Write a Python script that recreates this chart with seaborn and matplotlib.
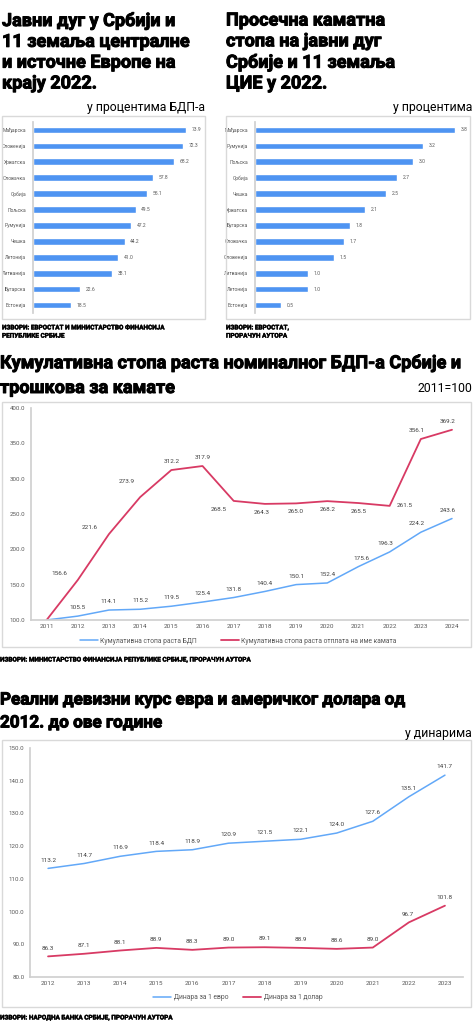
import numpy as np
import pandas as pd
import seaborn as sns
import matplotlib.pyplot as plt
import matplotlib.patheffects as pe
from matplotlib.patches import Rectangle
from matplotlib.ticker import FormatStrFormatter

W, H = 473, 1024

# data
debt_countries = ['Мађарска', 'Словенија', 'Хрватска', 'Словачка', 'Србија', 'Пољска',
                  'Румунија', 'Чешка', 'Летонија', 'Литванија', 'Бугарска', 'Естонија']
debt_values = [73.9, 72.3, 68.2, 57.8, 55.1, 49.5, 47.2, 44.2, 41.0, 38.1, 22.6, 18.5]

rate_countries = ['Мађарска', 'Румунија', 'Пољска', 'Србија', 'Чешка', 'Хрватска',
                  'Бугарска', 'Словачка', 'Словенија', 'Литванија', 'Летонија', 'Естонија']
rate_values = [3.8, 3.2, 3.0, 2.7, 2.5, 2.1, 1.8, 1.7, 1.5, 1.0, 1.0, 0.5]

gdp_years = [2011, 2012, 2013, 2014, 2015, 2016, 2017, 2018, 2019, 2020, 2021, 2022, 2023, 2024]
gdp_growth = [100.0, 105.5, 114.1, 115.2, 119.5, 125.4, 131.8, 140.4, 150.1, 152.4, 175.6, 196.3, 224.2, 243.6]
interest_growth = [100.0, 156.6, 221.6, 273.9, 312.2, 317.9, 268.5, 264.3, 265.0, 268.2, 265.5, 261.5, 356.1, 369.2]

fx_years = [2012, 2013, 2014, 2015, 2016, 2017, 2018, 2019, 2020, 2021, 2022, 2023]
eur_rate = [113.2, 114.7, 116.9, 118.4, 118.9, 120.9, 121.5, 122.1, 124.0, 127.6, 135.1, 141.7]
usd_rate = [86.3, 87.1, 88.1, 88.9, 88.3, 89.0, 89.1, 88.9, 88.6, 89.0, 96.7, 101.8]

BAR = '#4e94f2'
BLUE = '#62a8f8'
RED = '#d83a64'
GREY = '#595959'
FRAME = '#d9d9d9'

sns.set_theme(style='white')
plt.rcParams['font.family'] = ['Roboto', 'DejaVu Sans']

fig = plt.figure(figsize=(W / 100, H / 100), dpi=100)


def px_axes(l, t, r, b):
    return fig.add_axes([l / W, 1 - b / H, (r - l) / W, (b - t) / H])


def frame(l, t, r, b):
    fig.patches.append(Rectangle((l / W, 1 - b / H), (r - l) / W, (b - t) / H,
                                 transform=fig.transFigure, fill=False, ec=FRAME, lw=1))


def ftext(x, y, s, **kw):
    fig.text(x / W, 1 - y / H, s, **kw)


heavy = [pe.withStroke(linewidth=0.7, foreground='black')]
title_kw = dict(fontsize=13, fontweight='bold', color='black', va='center', linespacing=1.2,
                path_effects=heavy)
src_kw = dict(fontsize=4.6, fontweight='bold', color='black', va='center', linespacing=1.8,
              path_effects=[pe.withStroke(linewidth=0.3, foreground='black')])


# ==============================================
# 1. Bar charts on top
# ==============================================
def bar_chart(ax, countries, values, xmax):
    df = pd.DataFrame({'country': countries, 'value': values})
    sns.barplot(data=df, x='value', y='country', orient='h', color=BAR, saturation=1,
                width=0.42, ax=ax)
    ax.bar_label(ax.containers[0], fmt='%.1f', padding=4, fontsize=3.6, color=GREY)
    ax.set_xlim(0, xmax)
    ax.set_ylim(len(countries) - 0.5, -0.5)
    ax.set_xlabel('')
    ax.set_ylabel('')
    ax.set_xticks([])
    sns.despine(ax=ax, top=True, right=True, bottom=True)
    ax.spines['left'].set_color('#d0d0d0')
    ax.tick_params(axis='y', length=0, labelsize=3.6, labelcolor=GREY, pad=5)
    ax.set_yticks(np.arange(len(countries) + 1) - 0.5, minor=True)
    ax.tick_params(axis='y', which='minor', length=2, color='#d0d0d0')


ftext(2, 52, 'Јавни дуг у Србији и\n11 земаља централне\nи источне Европе на\nкрају 2022.', ha='left', **title_kw)
ftext(205, 107, 'у процентима БДП-а', ha='right', fontsize=8.8, color='black', va='center')
frame(2, 116, 205, 319)
ax1 = px_axes(33, 122, 203, 313)
bar_chart(ax1, debt_countries, debt_values, 82)
ftext(2, 332, 'ИЗВОРИ: ЕВРОСТАТ И МИНИСТАРСТВО ФИНАНСИЈА\nРЕПУБЛИКЕ СРБИЈЕ', ha='left', **src_kw)

ftext(226, 52, 'Просечна каматна\nстопа на јавни дуг\nСрбије и 11 земаља\nЦИЕ у 2022.', ha='left', **title_kw)
ftext(472, 107, 'у процентима', ha='right', fontsize=8.8, color='black', va='center')
frame(226, 116, 470, 319)
ax2 = px_axes(255, 122, 468, 313)
bar_chart(ax2, rate_countries, rate_values, 4.05)
ftext(226, 332, 'ИЗВОРИ: ЕВРОСТАТ,\nПРОРАЧУН АУТОРА', ha='left', **src_kw)


# ==============================================
# 2. Line charts
# ==============================================
def line_axes(ax, years, lo, hi, step):
    ax.set_xlim(years[0] - 0.5, years[-1] + 0.5)
    ax.set_ylim(lo, hi)
    ax.set_yticks(np.arange(lo, hi + step / 2, step))
    ax.yaxis.set_major_formatter(FormatStrFormatter('%.1f'))
    ax.set_xticks(years)
    ax.set_xticks(np.arange(years[0] - 0.5, years[-1] + 1, 1), minor=True)
    ax.set_xlabel('')
    ax.set_ylabel('')
    sns.despine(ax=ax, top=True, right=True)
    ax.spines['left'].set_color('#d0d0d0')
    ax.spines['bottom'].set_color('#d0d0d0')
    ax.tick_params(axis='x', which='major', length=0, labelsize=4.6, labelcolor=GREY, pad=3)
    ax.tick_params(axis='x', which='minor', length=3, color='#d0d0d0')
    ax.tick_params(axis='y', length=2, color='#d0d0d0', labelsize=4.4, labelcolor=GREY, pad=2)


def label_points(ax, years, values, offsets, skip_first=False):
    for i, (x, v) in enumerate(zip(years, values)):
        if skip_first and i == 0:
            continue
        dx, dy = offsets[i]
        ax.annotate(f'{v:.1f}', (x, v), xytext=(dx, dy), textcoords='offset points',
                    ha='center', va='center', fontsize=4.6, color='#404040')


ftext(0, 363, 'Кумулативна стопа раста номиналног БДП-а Србије и', ha='left', **title_kw)
ftext(0, 388, 'трошкова за камате', ha='left', **title_kw)
ftext(472, 389, '2011=100', ha='right', fontsize=8.8, color='black', va='center')
frame(2, 402, 471, 647)
ax3 = px_axes(31, 408, 467.6, 620)
sns.lineplot(x=gdp_years, y=gdp_growth, ax=ax3, color=BLUE, lw=1.1,
             label='Кумулативна стопа раста БДП')
sns.lineplot(x=gdp_years, y=interest_growth, ax=ax3, color=RED, lw=1.3,
             label='Кумулативна стопа раста отплата на име камата')
line_axes(ax3, gdp_years, 100, 400, 50)
gdp_off = [(0, 6)] * 10 + [(2, 6), (-3, 6), (-3, 6), (-3, 6)]
red_off = [(0, 0), (-13, 5), (-14, 5), (-10, 11), (0, 6), (0, 6), (-11, -6), (-2, -6),
           (0, -6), (0, -6), (0, -6), (11, 0), (-3, 6), (-3, 6)]
label_points(ax3, gdp_years, gdp_growth, gdp_off, skip_first=True)
label_points(ax3, gdp_years, interest_growth, red_off, skip_first=True)
ax3.legend(ncol=2, loc='center', bbox_to_anchor=(0.475, -0.1), frameon=False,
           fontsize=4.9, handlelength=2.6, handletextpad=0.4, columnspacing=3.5, labelcolor=GREY)
ftext(0, 660, 'ИЗВОРИ: МИНИСТАРСТВО ФИНАНСИЈА РЕПУБЛИКЕ СРБИЈЕ, ПРОРАЧУН АУТОРА', ha='left', **src_kw)

bottom_title_kw = dict(title_kw, fontsize=12.3)
ftext(0, 700, 'Реални девизни курс евра и америчког долара од', ha='left', **bottom_title_kw)
ftext(0, 723, '2012. до ове године', ha='left', **bottom_title_kw)
ftext(472, 733, 'у динарима', ha='right', fontsize=8.8, color='black', va='center')
frame(2, 740, 471, 1007)
ax4 = px_axes(30, 748, 463, 977)
sns.lineplot(x=fx_years, y=eur_rate, ax=ax4, color=BLUE, lw=1.1, label='Динара за 1 евро')
sns.lineplot(x=fx_years, y=usd_rate, ax=ax4, color=RED, lw=1.3, label='Динара за 1 долар')
line_axes(ax4, fx_years, 80, 150, 10)
label_points(ax4, fx_years, eur_rate, [(0, 6)] * 12)
label_points(ax4, fx_years, usd_rate, [(0, 6)] * 10 + [(-1, 6), (0, 6)])
ax4.legend(ncol=2, loc='center', bbox_to_anchor=(0.48, -0.09), frameon=False,
           fontsize=4.9, handlelength=2.6, handletextpad=0.4, columnspacing=2.2, labelcolor=GREY)
ftext(0, 1018, 'ИЗВОРИ: НАРОДНА БАНКА СРБИЈЕ, ПРОРАЧУН АУТОРА', ha='left', **src_kw)

fig.savefig('out.png', dpi=100)
